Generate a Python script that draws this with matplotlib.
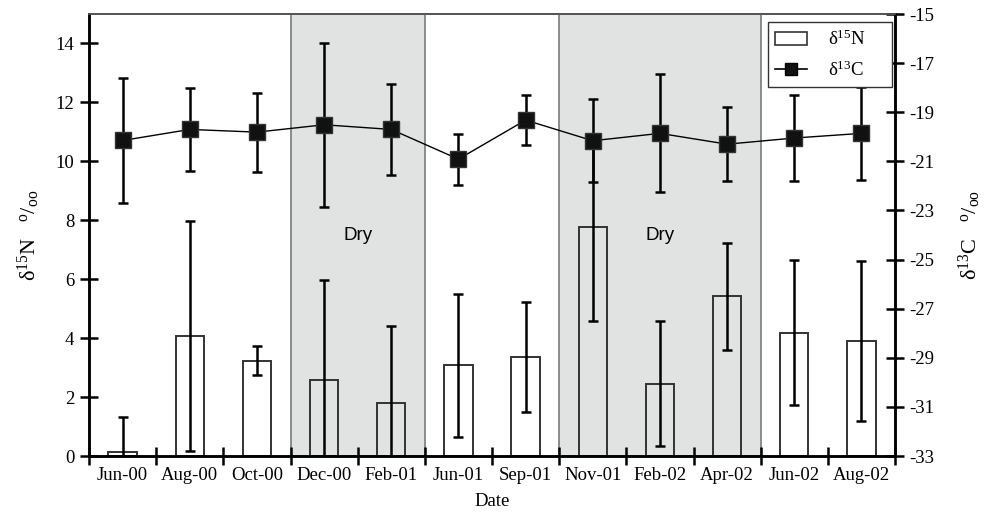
import matplotlib
matplotlib.use("Agg")
import matplotlib.pyplot as plt
import numpy as np
from matplotlib.patches import Patch
from matplotlib.lines import Line2D
from matplotlib.ticker import FixedLocator

plt.rcParams['font.family'] = ['Liberation Serif', 'DejaVu Serif']
plt.rcParams['mathtext.fontset'] = 'custom'
plt.rcParams['mathtext.rm'] = 'Liberation Serif'
plt.rcParams['mathtext.it'] = 'Liberation Serif:italic'
plt.rcParams['axes.unicode_minus'] = False

dates = ["Jun-00", "Aug-00", "Oct-00", "Dec-00", "Feb-01", "Jun-01",
         "Sep-01", "Nov-01", "Feb-02", "Apr-02", "Jun-02", "Aug-02"]
d15n = [0.14, 4.07, 3.24, 2.59, 1.81, 3.08, 3.37, 7.76, 2.46, 5.42, 4.19, 3.90]
d15n_err = [1.18, 3.90, 0.50, 3.40, 2.62, 2.42, 1.86, 3.18, 2.13, 1.81, 2.47, 2.72]
d13c = [-20.15, -19.70, -19.81, -19.51, -19.70, -20.91,
        -19.32, -20.16, -19.86, -20.30, -20.05, -19.86]
d13c_err = [2.54, 1.69, 1.61, 3.35, 1.87, 1.04, 1.03, 1.70, 2.40, 1.50, 1.75, 1.90]
dry_periods = [(2.5, 4.5), (6.5, 9.5)]
dry_label = "Dry"

fig = plt.figure(figsize=(9.98, 5.23), dpi=100)
ax = fig.add_axes([0.0892, 0.128, 0.8076, 0.8452])
ax2 = ax.twinx()

x = np.arange(len(dates))

for (a, b) in dry_periods:
    ax.axvspan(a, b, facecolor='#e1e3e3', edgecolor='#7a7a7a', lw=1.2, zorder=0)
    ax.text((a + b) / 2, 7.5, dry_label, ha='center', va='center',
            fontsize=13.5, family='Liberation Sans', zorder=1)

ax.bar(x, d15n, width=0.42, facecolor='none', edgecolor='#333333', lw=1.4, zorder=2)
ax.errorbar(x, d15n, yerr=d15n_err, fmt='none', ecolor='black', elinewidth=1.8,
            capsize=3.5, capthick=1.8, zorder=3)

ax2.errorbar(x, d13c, yerr=d13c_err, fmt='none', ecolor='black', elinewidth=1.8,
             capsize=3.5, capthick=1.8, zorder=3)
ax2.plot(x, d13c, color='black', lw=1.0, marker='s', markersize=11,
         markerfacecolor='#111111', markeredgecolor='#333333', zorder=4)

ax.set_xlim(-0.5, len(dates) - 0.5)
ax.set_ylim(0, 15)
ax2.set_ylim(-33, -15)

ax.set_xticks(x)
ax.set_xticklabels(dates, fontsize=13.5)
ax.xaxis.set_minor_locator(FixedLocator(np.arange(-0.5, len(dates), 1.0)))
ax.tick_params(axis='x', which='major', length=0, pad=8)
ax.tick_params(axis='x', which='minor', direction='inout', length=13, width=1.8)

ax.set_yticks(np.arange(0, 15, 2))
ax.tick_params(axis='y', direction='inout', length=13, width=1.8, labelsize=13.5, pad=4)
ax2.set_yticks(np.arange(-33, -14, 2))
ax2.tick_params(axis='y', direction='inout', length=13, width=1.8, labelsize=13.5, pad=4)

for a in (ax, ax2):
    a.spines['top'].set_color('#555555')
    a.spines['top'].set_linewidth(1.3)
    for s in ('left', 'right', 'bottom'):
        a.spines[s].set_linewidth(1.8)
        a.spines[s].set_color('black')

ax.set_xlabel("Date", fontsize=13.5, labelpad=6)
ax.set_ylabel("δ$^{15}$N   $^{\\mathrm{o}}/_{\\mathrm{oo}}$", fontsize=16, labelpad=10)
ax2.set_ylabel("δ$^{13}$C   $^{\\mathrm{o}}/_{\\mathrm{oo}}$", fontsize=16, labelpad=16)

handles = [Patch(facecolor='white', edgecolor='#333333', lw=1.2),
           Line2D([], [], color='black', lw=1.2, marker='s', markersize=9,
                  markerfacecolor='#111111')]
leg = ax2.legend(handles, ["δ$^{15}$N\u2003 ", "δ$^{13}$C\u2003 "], loc='upper right',
                 bbox_to_anchor=(0.9963, 0.982), borderaxespad=0, fontsize=13.5,
                 fancybox=False, frameon=True, edgecolor='#333333', framealpha=1,
                 handlelength=1.7, handletextpad=1.1, borderpad=0.4,
                 labelspacing=0.6)
leg.get_frame().set_linewidth(1.0)
leg.set_zorder(10)

fig.savefig("out.png", dpi=100)
